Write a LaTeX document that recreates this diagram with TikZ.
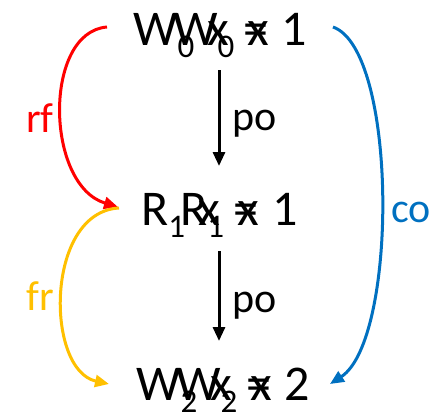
\documentclass[tikz,border=0pt]{standalone}
\usepackage{fontspec}
\setmainfont{Carlito}
\usetikzlibrary{arrows.meta}
\definecolor{rfred}{HTML}{FF0000}
\definecolor{fryel}{HTML}{FFC000}
\definecolor{coblue}{HTML}{0070C0}
\newcommand{\sbs}[1]{\raisebox{-12pt}{\fontsize{33}{33}\selectfont #1}}
\newcommand{\wsp}{\hspace{13.5pt}}
\begin{document}
\begin{tikzpicture}[x=1pt,y=-1pt,
  ev/.style={inner sep=0pt, anchor=base west, font=\fontsize{50}{60}\selectfont},
  lbl/.style={inner sep=0pt, anchor=base west, font=\fontsize{42}{50}\selectfont},
  rel/.style={line width=3pt, -{Triangle[length=14pt,width=12pt]}}]
\useasboundingbox (0,0) rectangle (439,413);
% events (text drawn twice, overlapping, as in the reference)
\node[ev] (w0)  at (133,45)  {W\sbs{0}\wsp x\wsp=\wsp1};
\node[ev] (w0b) at (173,45)  {W\sbs{0}\wsp x};
\node[ev] (r1)  at (141,225) {R\sbs{1}\wsp x\wsp=\wsp1};
\node[ev] (r1b) at (180,225) {R\sbs{1}\wsp x};
\node[ev] (w2)  at (136,400) {W\sbs{2}\wsp x\wsp=\wsp2};
\node[ev] (w2b) at (176,400) {W\sbs{2}\wsp x};
% connector end points
\coordinate (po1s) at (219,70);
\coordinate (po1e) at (219,166);
\coordinate (po2s) at (219,251);
\coordinate (po2e) at (219,341);
\coordinate (rfs) at (107,27);
\coordinate (rfe) at (118,207);
\coordinate (frs) at (119,208);
\coordinate (fre) at (109,384);
\coordinate (cos) at (333,27);
\coordinate (coe) at (330,384);
% po
\draw[rel] (po1s) -- (po1e);
\draw[rel] (po2s) -- (po2e);
\node[lbl] (po1) at (232,130) {po};
\node[lbl] (po2) at (232,312) {po};
% rf
\draw[rel, rfred] (rfs) .. controls (43,32) and (45,185) .. (rfe);
\node[lbl, text=rfred] (rf) at (26,132) {rf};
% fr
\draw[rel, fryel] (frs) .. controls (45,212) and (45,370) .. (fre);
\node[lbl, text=fryel] (fr) at (26,310) {fr};
% co
\draw[rel, coblue] (cos) .. controls (398,50) and (398,340) .. (coe);
\node[lbl, text=coblue] (co) at (391,222) {co};
\end{tikzpicture}
\end{document}
